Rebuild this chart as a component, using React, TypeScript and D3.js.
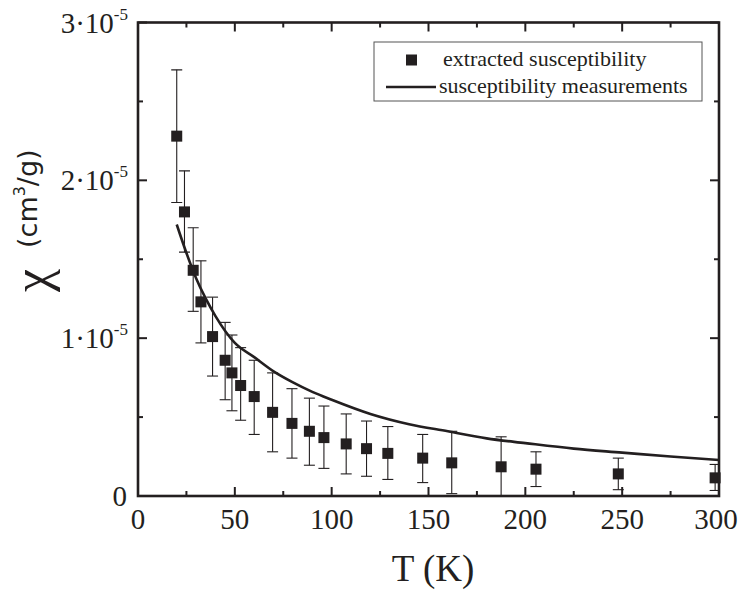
import React from 'react';
import * as d3 from 'd3';

// extracted susceptibility (units of 1e-5 cm^3/g)
const temps = [20, 24, 28.5, 32.5, 38.5, 45, 48.5, 53, 60, 69.5, 79.5, 88.5, 96, 107.5, 118, 129, 147, 162, 187.5, 205.5, 248, 298];
const chiVals = [2.28, 1.8, 1.43, 1.23, 1.01, 0.86, 0.78, 0.7, 0.63, 0.53, 0.46, 0.41, 0.37, 0.33, 0.3, 0.27, 0.24, 0.21, 0.185, 0.17, 0.14, 0.115];
const errHigh = [2.7, 2.06, 1.7, 1.49, 1.26, 1.1, 1.02, 0.94, 0.86, 0.78, 0.68, 0.62, 0.57, 0.52, 0.475, 0.44, 0.39, 0.41, 0.375, 0.28, 0.24, 0.2];
const errLow = [1.86, 1.545, 1.17, 0.97, 0.76, 0.61, 0.54, 0.48, 0.39, 0.28, 0.24, 0.195, 0.175, 0.14, 0.125, 0.105, 0.085, 0.015, 0, 0.06, 0.04, 0.035];

// susceptibility measurements curve
const measT = [20, 25, 30, 35, 40, 50, 60, 70, 80, 90, 100, 120, 140, 160, 180, 200, 225, 250, 275, 300];
const measChi = [1.72, 1.54, 1.38, 1.25, 1.14, 0.97, 0.88, 0.79, 0.72, 0.66, 0.61, 0.52, 0.455, 0.41, 0.365, 0.335, 0.3, 0.275, 0.25, 0.228];

const xMajor = [0, 50, 100, 150, 200, 250, 300];
const xMinor = [25, 75, 125, 175, 225, 275];
const yMajor = [0, 1, 2, 3];
const yMinor = [0.5, 1.5, 2.5];

const W = 738;
const H = 591;
const left = 138, right = 719, top = 22.5, bottom = 496;

const serif = "'Liberation Serif', 'DejaVu Serif', serif";
const sans = "'DejaVu Sans', sans-serif";
const ink = '#231f20';

export default function App() {
  const x = d3.scaleLinear().domain([0, 300]).range([left, right]);
  const y = d3.scaleLinear().domain([0, 3]).range([bottom, top]);

  const line = d3.line<number>()
    .x((_, i) => x(measT[i]))
    .y(d => y(d))
    .curve(d3.curveMonotoneX);

  const majLen = 9, minLen = 5;

  return (
    <svg width={W} height={H} style={{ position: 'absolute', left: 0, top: 0, background: '#fff' }}>
      <defs>
        <clipPath id="plot">
          <rect x={left} y={top} width={right - left} height={bottom - top} />
        </clipPath>
      </defs>

      {/* error bars */}
      <g clipPath="url(#plot)" stroke={ink} strokeWidth={1.1}>
        {temps.map((t, i) => (
          <g key={i}>
            <line x1={x(t)} x2={x(t)} y1={y(errLow[i])} y2={y(errHigh[i])} />
            <line x1={x(t) - 5.5} x2={x(t) + 5.5} y1={y(errHigh[i])} y2={y(errHigh[i])} />
            <line x1={x(t) - 5.5} x2={x(t) + 5.5} y1={y(errLow[i])} y2={y(errLow[i])} />
          </g>
        ))}
      </g>

      {/* measurement curve */}
      <path d={line(measChi) || ''} fill="none" stroke={ink} strokeWidth={2.6} />

      {/* markers */}
      <g fill={ink}>
        {temps.map((t, i) => (
          <rect key={i} x={x(t) - 5.5} y={y(chiVals[i]) - 5.5} width={11} height={11} />
        ))}
      </g>

      {/* ticks */}
      <g stroke={ink} strokeWidth={2}>
        {xMajor.concat(xMinor).map((v, i) => {
          const len = xMajor.includes(v) ? majLen : minLen;
          return (
            <g key={'x' + i}>
              <line x1={x(v)} x2={x(v)} y1={bottom} y2={bottom - len} />
              <line x1={x(v)} x2={x(v)} y1={top} y2={top + len} />
            </g>
          );
        })}
        {yMajor.concat(yMinor).map((v, i) => {
          const len = yMajor.includes(v) ? majLen : minLen;
          return (
            <g key={'y' + i}>
              <line x1={left} x2={left + len} y1={y(v)} y2={y(v)} />
              <line x1={right} x2={right - len} y1={y(v)} y2={y(v)} />
            </g>
          );
        })}
      </g>

      {/* frame */}
      <rect x={left} y={top} width={right - left} height={bottom - top} fill="none" stroke={ink} strokeWidth={2.6} />

      {/* x tick labels */}
      <g style={{ fontFamily: serif }} fontSize={29} fill={ink} textAnchor="middle">
        {xMajor.map(v => (
          <text key={v} x={v === 300 ? x(v) - 3 : x(v)} y={529}>{v}</text>
        ))}
      </g>

      {/* y tick labels */}
      <g style={{ fontFamily: serif }} fill={ink} textAnchor="end">
        {yMajor.map(v => v === 0 ? (
          <text key={v} x={127} y={y(v) + 10} fontSize={29}>0</text>
        ) : (
          <text key={v} x={128} y={y(v) + 10} fontSize={29}>
            {v}·10<tspan fontSize={17} dy={-13}>-5</tspan>
          </text>
        ))}
      </g>

      {/* axis titles */}
      <text x={433} y={581} textAnchor="middle" style={{ fontFamily: serif }} fontSize={37} fill={ink}>T (K)</text>
      <text transform="translate(49, 292) rotate(-90)" style={{ fontFamily: serif }} fontSize={52} fill={ink}>χ</text>
      <text transform="translate(37, 248) rotate(-90)" style={{ fontFamily: sans }} fontSize={27} fill={ink}>
        (cm<tspan fontSize={16} dy={-12}>3</tspan><tspan dy={12}>/g)</tspan>
      </text>

      {/* legend */}
      <rect x={374} y={42} width={328} height={59} fill="#fff" stroke="#555" strokeWidth={1} />
      <rect x={406} y={54.5} width={11} height={11} fill={ink} />
      <g style={{ fontFamily: serif }} fontSize={22} fill={ink}>
        <text x={443} y={66}>extracted susceptibility</text>
        <text x={439} y={93}>susceptibility measurements</text>
      </g>
      <line x1={386} x2={436} y1={87} y2={87} stroke={ink} strokeWidth={2.6} />
    </svg>
  );
}
